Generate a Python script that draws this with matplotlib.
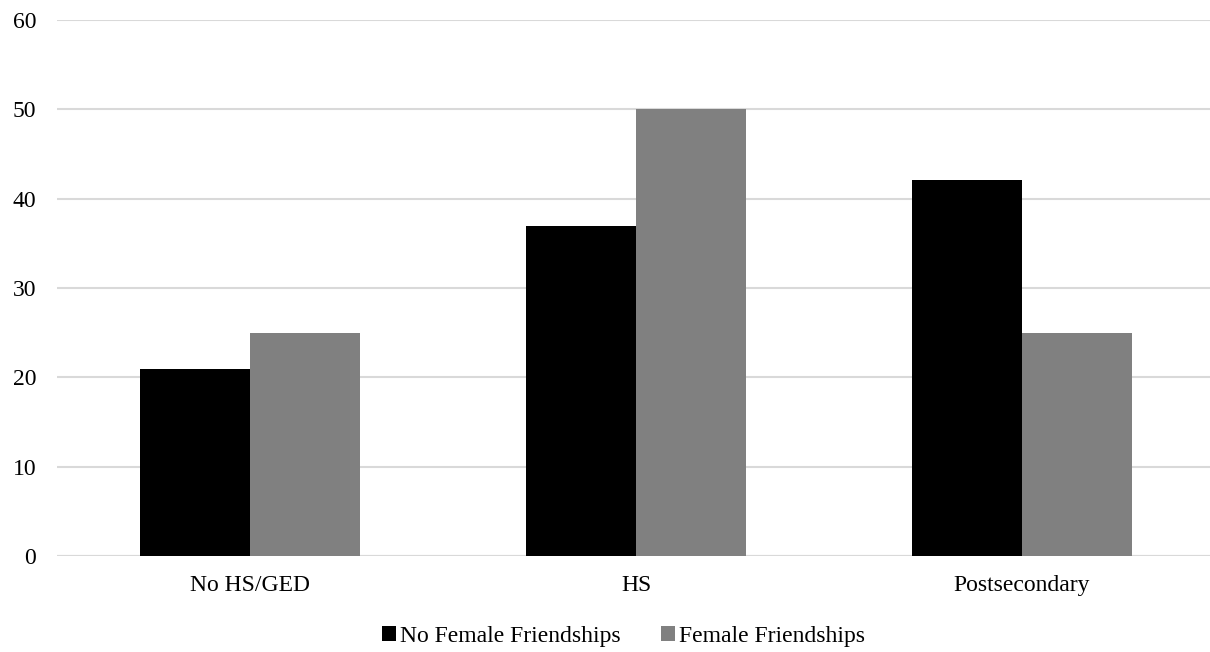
import numpy as np
import matplotlib.pyplot as plt

plt.rcParams['font.family'] = ['Liberation Serif', 'DejaVu Serif']

categories = ["No HS/GED", "HS", "Postsecondary"]
no_female = [20.9, 36.9, 42.1]
female = [25.0, 50.0, 25.0]
yticks = [0, 10, 20, 30, 40, 50, 60]

fig = plt.figure(figsize=(12.1, 6.52), dpi=100)
# plot area runs past the right edge so the gridlines reach the border
ax = fig.add_axes([57 / 1210, 1 - 556 / 652, 1158 / 1210, 536 / 652])

x = np.arange(len(categories))
w = 0.285
ax.bar(x - w / 2, no_female, w, color='black', label='No Female Friendships', zorder=3)
ax.bar(x + w / 2, female, w, color='#808080', label='Female Friendships', zorder=3)

ax.set_xlim(-0.5, 2.5)
ax.set_ylim(0, 60)
ax.set_yticks(yticks)
ax.set_xticks(x)
ax.set_xticklabels(categories)
ax.grid(axis='y', color='#d9d9d9', linewidth=1.5, zorder=0)
ax.tick_params(axis='both', length=0, labelsize=17)
ax.tick_params(axis='y', pad=15)
ax.tick_params(axis='x', pad=14)
for s in ax.spines.values():
    s.set_visible(False)
ax.axhline(0, color='#d9d9d9', linewidth=1.5, zorder=1)

ax.legend(loc='center', bbox_to_anchor=(0.489, -0.15), ncol=2, frameon=False,
          fontsize=17, handlelength=0.6, handleheight=0.6, handletextpad=0.15,
          columnspacing=1.72, bbox_transform=ax.transAxes)

fig.savefig("out.png")
